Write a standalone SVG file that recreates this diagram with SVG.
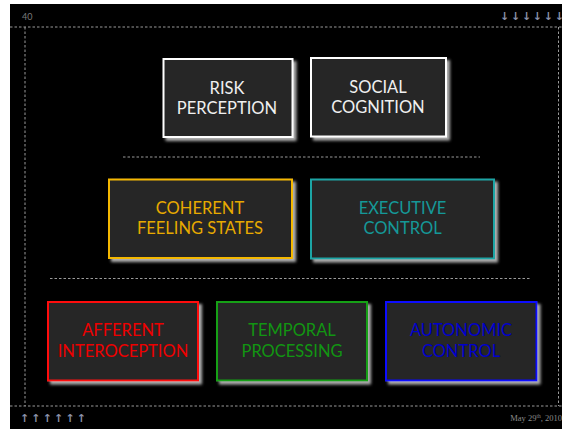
<svg xmlns="http://www.w3.org/2000/svg" width="571" height="429" viewBox="0 0 571 429">
<defs>
<filter id="sh" x="-10%" y="-10%" width="125%" height="130%">
<feDropShadow dx="3" dy="3" stdDeviation="1.5" flood-color="#b0b0b0" flood-opacity="1"/>
</filter>
</defs>
<style>
.box{fill:#272727;stroke-width:2;filter:url(#sh)}
.lbl{font-family:Lato,"Open Sans",sans-serif;font-size:16.5px;text-anchor:middle}
.dash{stroke:#9a9a9a;stroke-width:1;stroke-dasharray:2.5,2;fill:none}
.arr{font-family:"DejaVu Sans",sans-serif;font-size:11px;font-weight:bold;fill:#8a90a8}
</style>
<rect x="0" y="0" width="571" height="429" fill="#ffffff"/>
<rect x="10" y="4" width="552" height="425" fill="#000000"/>
<g id="frame">
<line class="dash" x1="10" y1="27" x2="562" y2="27"/>
<line class="dash" x1="10" y1="406" x2="562" y2="406"/>
<line class="dash" x1="25" y1="27" x2="25" y2="406"/>
<line class="dash" x1="558.5" y1="27" x2="558.5" y2="406"/>
<line class="dash" x1="123" y1="157" x2="480" y2="157"/>
<line class="dash" x1="50" y1="278.5" x2="530" y2="278.5"/>
</g>
<text x="22" y="19.5" font-family="Lato,sans-serif" font-size="9" fill="#7a7a7a">40</text>
<text class="arr" x="500" y="19.5" textLength="64" lengthAdjust="spacing">↓↓↓↓↓↓</text>
<text class="arr" x="20" y="421.5" textLength="66" lengthAdjust="spacing">↑↑↑↑↑↑</text>
<text x="562" y="420.5" text-anchor="end" font-family="'Liberation Serif',serif" font-size="8.5" fill="#8a8a8a">May 29<tspan font-size="5.5" dy="-3">th</tspan><tspan dy="3">, 2010</tspan></text>
<g id="risk">
<rect class="box" x="163.5" y="59" width="129" height="78" stroke="#ffffff"/>
<text class="lbl" fill="#f0f0f0" x="227" y="93.5">RISK</text>
<text class="lbl" fill="#f0f0f0" x="227" y="113.5">PERCEPTION</text>
</g>
<g id="social">
<rect class="box" x="311" y="58" width="135" height="78.5" stroke="#ffffff"/>
<text class="lbl" fill="#f0f0f0" x="378" y="93">SOCIAL</text>
<text class="lbl" fill="#f0f0f0" x="378" y="113">COGNITION</text>
</g>
<g id="coherent">
<rect class="box" x="109" y="179.5" width="183" height="78.5" stroke="#f5b800"/>
<text class="lbl" fill="#e8aa00" x="200" y="214">COHERENT</text>
<text class="lbl" fill="#e8aa00" x="200" y="234">FEELING STATES</text>
</g>
<g id="executive">
<rect class="box" x="311" y="179.5" width="183" height="79" stroke="#1aa5a5"/>
<text class="lbl" fill="#159898" x="402.5" y="214">EXECUTIVE</text>
<text class="lbl" fill="#159898" x="402.5" y="234">CONTROL</text>
</g>
<g id="afferent">
<rect class="box" x="48" y="302" width="150" height="78.5" stroke="#ff1010"/>
<text class="lbl" fill="#ee0000" x="123" y="335.5">AFFERENT</text>
<text class="lbl" fill="#ee0000" x="123" y="356.5">INTEROCEPTION</text>
</g>
<g id="temporal">
<rect class="box" x="217" y="302" width="150" height="78.5" stroke="#16a016"/>
<text class="lbl" fill="#129512" x="292" y="335.5">TEMPORAL</text>
<text class="lbl" fill="#129512" x="292" y="356.5">PROCESSING</text>
</g>
<g id="autonomic">
<rect class="box" x="386" y="302" width="150.5" height="78.5" stroke="#0a0aff"/>
<text class="lbl" fill="#0000cc" x="461" y="335.5">AUTONOMIC</text>
<text class="lbl" fill="#0000cc" x="461" y="356.5">CONTROL</text>
</g>
<g id="connectors"></g>
</svg>
